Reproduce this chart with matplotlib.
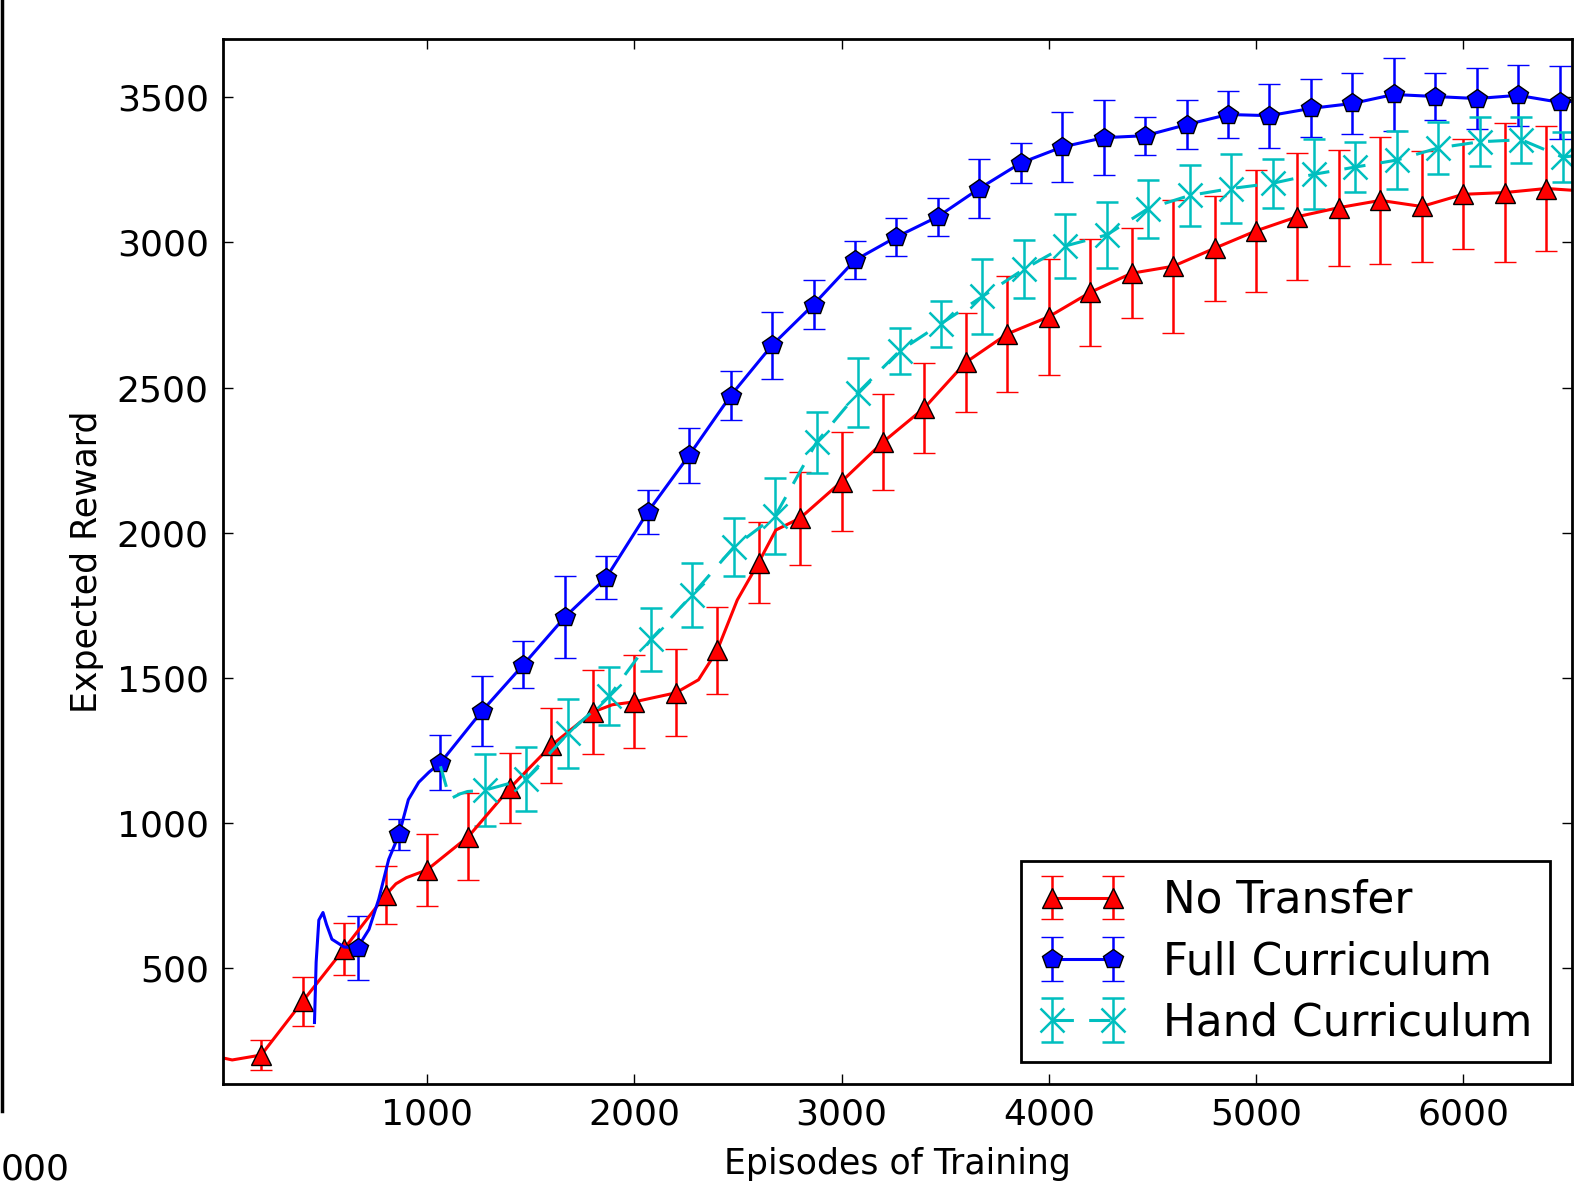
import numpy as np
import matplotlib
matplotlib.use('Agg')
import matplotlib.pyplot as plt
from matplotlib.lines import Line2D

# ---- data ----
# No Transfer: markers/errorbars every 200 episodes
red_mx = list(range(200, 6401, 200))
red_my = [200, 385, 566, 751, 838, 953, 1120, 1267, 1382, 1417, 1448, 1594,
          1897, 2050, 2176, 2312, 2430, 2587, 2685, 2744, 2828, 2894, 2918,
          2980, 3040, 3089, 3120, 3145, 3124, 3166, 3172, 3186]
red_err = [52, 85, 90, 100, 125, 150, 120, 130, 145, 160, 150, 150, 140, 160,
           170, 165, 155, 170, 200, 200, 185, 155, 230, 180, 210, 220, 200,
           220, 190, 190, 240, 215]
# extra points of the curve between markers
red_lx = [15, 60, 850, 900, 1894, 2310, 2497, 2683, 6525]
red_ly = [190, 183, 790, 811, 1407, 1493, 1768, 2009, 3180]

# Full Curriculum
blue_mx = list(range(665, 6466, 200))
blue_my = [570, 960, 1207, 1385, 1545, 1709, 1845, 2071, 2267, 2472, 2646,
           2786, 2939, 3019, 3089, 3186, 3274, 3329, 3361, 3368, 3406, 3441,
           3437, 3462, 3479, 3510, 3503, 3496, 3507, 3483]
blue_err = [110, 55, 95, 120, 80, 140, 75, 75, 95, 85, 115, 85, 65, 65, 65,
            100, 70, 120, 130, 65, 85, 80, 110, 100, 105, 125, 80, 105, 105, 125]
blue_lx = [457, 465, 478, 498, 515, 541, 600, 720, 767, 815, 910, 960, 1010, 6525]
blue_ly = [312, 520, 665, 691, 650, 599, 572, 633, 737, 874, 1080, 1140, 1175, 3486]

# Hand Curriculum
cyan_mx = list(range(1280, 6481, 200))
cyan_my = [1113, 1152, 1308, 1437, 1632, 1786, 1950, 2058, 2312, 2483, 2626,
           2720, 2814, 2908, 2988, 3026, 3117, 3162, 3186, 3204, 3235, 3260,
           3284, 3326, 3347, 3354, 3294]
cyan_err = [125, 110, 120, 100, 110, 110, 100, 130, 105, 120, 80, 80, 130,
            100, 110, 115, 100, 105, 120, 85, 120, 85, 100, 90, 85, 80, 85]
cyan_lx = [1065, 1097, 1113, 1160, 1195, 6525]
cyan_ly = [1195, 1115, 1083, 1100, 1108, 3298]

labels = ['No Transfer', 'Full Curriculum', 'Hand Curriculum']


def merge(mx, my, err, lx, ly):
    x = np.concatenate([mx, lx]).astype(float)
    y = np.concatenate([my, ly]).astype(float)
    e = np.concatenate([err, np.zeros(len(lx))]).astype(float)
    mask = np.concatenate([np.ones(len(mx), bool), np.zeros(len(lx), bool)])
    order = np.argsort(x)
    return x[order], y[order], e[order], mask[order]


plt.rcParams['font.family'] = 'DejaVu Sans'

fig = plt.figure(figsize=(15.86, 11.85), dpi=100)
ax = fig.add_axes([0.1404, 0.0852, 0.8508, 0.8816])

series = [
    (red_mx, red_my, red_err, red_lx, red_ly, 'r', '^', '-', 14.5),
    (blue_mx, blue_my, blue_err, blue_lx, blue_ly, 'b', 'p', '-', 15),
    (cyan_mx, cyan_my, cyan_err, cyan_lx, cyan_ly, 'c', 'x', '--', 17),
]
handles = []
for (mx, my, err, lx, ly, col, mk, ls, ms), lab in zip(series, labels):
    x, y, e, mask = merge(mx, my, err, lx, ly)
    idx = np.where(mask)[0]
    if mk == 'x':
        kw = dict(markeredgecolor=col, markeredgewidth=1.8)
    else:
        kw = dict(markerfacecolor=col, markeredgecolor='k', markeredgewidth=1)
    h = ax.errorbar(x, y, yerr=e, color=col, marker=mk, linestyle=ls, lw=2.2,
                    ms=ms, markevery=list(idx), errorevery=mask,
                    ecolor=col, elinewidth=1.8, capsize=8, capthick=1.8,
                    label=lab, **kw)
    if ls == '--':
        h[0].set_dashes((7, 5))
    handles.append(h)

ax.set_xlim(14, 6525)
ax.set_ylim(100, 3700)
ax.set_xticks([1000, 2000, 3000, 4000, 5000, 6000])
ax.set_yticks([500, 1000, 1500, 2000, 2500, 3000, 3500])
ax.tick_params(direction='in', top=True, right=True, length=7, width=1,
               labelsize=26, pad=10)
for sp in ax.spines.values():
    sp.set_linewidth(2)

ax.set_xlabel('Episodes of Training', fontsize=25, labelpad=11)
ax.set_ylabel('Expected Reward', fontsize=25, labelpad=9)

leg = ax.legend(handles=handles, labels=labels, loc='lower right',
                fontsize=31.5, numpoints=2, handlelength=2.0, labelspacing=0.42,
                borderpad=0.4, handletextpad=0.85, borderaxespad=0.5,
                fancybox=False, framealpha=1)
leg.get_frame().set_edgecolor('k')
leg.get_frame().set_linewidth(2)

# pieces of the neighbouring panel cut off at the left edge
fig.add_artist(Line2D([2 / 1586, 2 / 1586], [1.0, 1 - 1111 / 1185],
                      transform=fig.transFigure, color='k', lw=2.5))
fig.text(1 / 1586, 1 - 1170 / 1185, '000', ha='left', va='center',
         fontsize=26)

fig.savefig('out.png', dpi=100, facecolor='white')
